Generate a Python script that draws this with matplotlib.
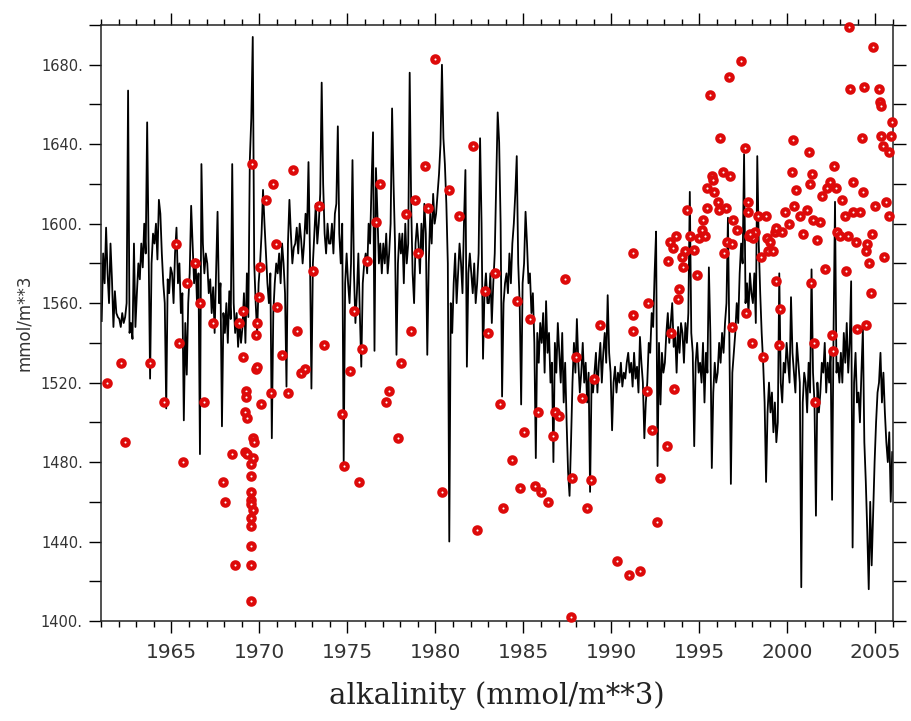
import numpy as np
import matplotlib
matplotlib.use('Agg')
import matplotlib.pyplot as plt
from matplotlib.transforms import ScaledTranslation

# monthly model alkalinity (mmol/m**3), Jan..Dec for each year
alk_1961_1970 = [
    1551, 1585, 1570, 1598, 1575, 1560, 1590, 1572, 1548, 1566, 1555, 1553,
    1552, 1548, 1555, 1550, 1553, 1560, 1667, 1545, 1550, 1542, 1590, 1548,
    1565, 1580, 1572, 1590, 1578, 1600, 1585, 1651, 1588, 1522, 1580, 1595,
    1590, 1600, 1582, 1612, 1605, 1585, 1570, 1560, 1507, 1572, 1565, 1578,
    1575, 1560, 1585, 1598, 1570, 1580, 1555, 1565, 1501, 1550, 1524, 1560,
    1575, 1609, 1590, 1570, 1582, 1560, 1575, 1484, 1630, 1590, 1575, 1585,
    1580, 1565, 1572, 1555, 1568, 1545, 1575, 1606, 1560, 1570, 1498, 1555,
    1545, 1560, 1540, 1566, 1552, 1630, 1560, 1545, 1555, 1538, 1550, 1540,
    1548, 1565, 1540, 1575, 1553, 1632, 1653, 1694, 1580, 1560, 1545, 1570,
    1580, 1595, 1617, 1600, 1585, 1570, 1560, 1575, 1492, 1555, 1570, 1580,
]
alk_1971_1980 = [
    1575, 1585, 1570, 1590, 1580, 1565, 1518, 1590, 1612, 1595, 1580, 1588,
    1590, 1598, 1585, 1600, 1592, 1580, 1590, 1605, 1595, 1631, 1585, 1517,
    1580, 1595, 1610, 1590, 1600, 1615, 1671, 1620, 1595, 1585, 1600, 1590,
    1590, 1600, 1585, 1605, 1610, 1649, 1595, 1580, 1600, 1480, 1570, 1585,
    1570, 1560, 1580, 1632, 1575, 1550, 1565, 1585, 1555, 1528, 1570, 1580,
    1585, 1575, 1600, 1590, 1620, 1646, 1536, 1628, 1605, 1580, 1590, 1575,
    1590, 1580, 1595, 1575, 1585, 1600, 1658, 1620, 1590, 1534, 1580, 1595,
    1585, 1595, 1570, 1600, 1580, 1590, 1676, 1610, 1575, 1560, 1590, 1600,
    1590, 1575, 1600, 1585, 1610, 1595, 1534, 1580, 1605, 1590, 1615, 1600,
    1605, 1615, 1625, 1640, 1680, 1643, 1630, 1610, 1580, 1440, 1560, 1545,
]
alk_1981_1990 = [
    1570, 1585, 1560, 1575, 1590, 1580, 1565, 1600, 1627, 1528, 1575, 1585,
    1575, 1565, 1580, 1560, 1570, 1585, 1643, 1600, 1532, 1565, 1575, 1560,
    1560, 1575, 1550, 1570, 1585, 1620, 1656, 1641, 1600, 1513, 1560, 1570,
    1575, 1565, 1585, 1570, 1590, 1600, 1615, 1634, 1580, 1560, 1509, 1570,
    1580, 1606, 1590, 1570, 1575, 1555, 1565, 1540, 1482, 1545, 1530, 1550,
    1540, 1555, 1525, 1561, 1535, 1545, 1520, 1530, 1480, 1540, 1525, 1550,
    1535, 1520, 1545, 1510, 1530, 1500, 1475, 1463, 1490, 1520, 1540, 1525,
    1552, 1530, 1515, 1525, 1540, 1520, 1530, 1510, 1525, 1465, 1520, 1515,
    1525, 1535, 1515, 1530, 1540, 1520, 1535, 1545, 1530, 1564, 1535, 1525,
    1496, 1520, 1528, 1515, 1525, 1520, 1530, 1518, 1525, 1522, 1530, 1535,
]
alk_1991_2000 = [
    1525, 1530, 1518, 1535, 1522, 1528, 1515, 1543, 1530, 1520, 1492, 1510,
    1520, 1540, 1535, 1555, 1548, 1575, 1596, 1478, 1540, 1509, 1535, 1525,
    1530, 1545, 1555, 1540, 1550, 1560, 1538, 1545, 1525, 1548, 1535, 1550,
    1545, 1530, 1550, 1540, 1555, 1616, 1545, 1535, 1488, 1530, 1540, 1525,
    1530, 1520, 1540, 1510, 1535, 1525, 1578, 1545, 1477, 1515, 1530, 1520,
    1525, 1540, 1530, 1545, 1535, 1550, 1560, 1603, 1540, 1469, 1525, 1535,
    1545, 1560, 1550, 1575, 1590, 1580, 1635, 1560, 1570, 1555, 1575, 1565,
    1560, 1575, 1550, 1634, 1590, 1565, 1545, 1530, 1510, 1470, 1505, 1520,
    1505, 1515, 1495, 1510, 1490, 1500, 1575, 1520, 1510, 1530, 1525, 1540,
    1530, 1520, 1563, 1535, 1525, 1515, 1540, 1530, 1520, 1417, 1510, 1525,
]
alk_2001_2005 = [
    1520, 1505, 1530, 1515, 1577, 1525, 1510, 1453, 1520, 1505, 1515, 1530,
    1525, 1540, 1515, 1530, 1520, 1535, 1461, 1545, 1611, 1525, 1530, 1520,
    1535, 1520, 1545, 1530, 1550, 1525, 1540, 1571, 1437, 1520, 1535, 1510,
    1515, 1500, 1525, 1547, 1490, 1470, 1445, 1416, 1460, 1428, 1455, 1480,
    1500, 1515, 1520, 1535, 1510, 1525, 1505, 1490, 1480, 1495, 1460, 1485,
]

# observations (decimal year, value)
obs_year_1 = [1961.34, 1962.14, 1962.38, 1963.78, 1964.58, 1965.26, 1965.43, 1965.64,
              1965.90, 1966.34, 1966.60, 1966.85, 1967.38, 1967.91, 1968.06, 1968.42,
              1968.63, 1968.84, 1969.07, 1969.08, 1969.22, 1969.22, 1969.20, 1969.28,
              1969.20, 1969.28, 1969.56, 1969.66, 1969.70, 1969.50, 1969.66, 1969.52,
              1969.50, 1969.50, 1969.55, 1969.65, 1969.50, 1969.50, 1969.50, 1969.50,
              1969.50, 1969.83, 1969.85, 1970.03, 1970.00, 1969.80, 1969.87, 1970.10,
              1970.39, 1970.64, 1970.75, 1970.92, 1971.00, 1971.28, 1971.60, 1971.89,
              1972.14, 1972.36, 1972.59, 1973.03, 1973.37, 1973.67, 1974.67, 1974.82,
              1975.17, 1975.39, 1975.64, 1975.85, 1976.10]
obs_val_1 = [1520, 1530, 1490, 1530, 1510, 1590, 1540, 1480,
             1570, 1580, 1560, 1510, 1550, 1470, 1460, 1484,
             1428, 1550, 1556, 1533, 1516, 1513, 1505, 1502,
             1485, 1484, 1630, 1492, 1490, 1479, 1482, 1473,
             1465, 1461, 1459, 1456, 1452, 1448, 1438, 1428,
             1410, 1544, 1550, 1578, 1563, 1527, 1528, 1509,
             1612, 1515, 1620, 1590, 1558, 1534, 1515, 1627,
             1546, 1525, 1527, 1576, 1609, 1539, 1504, 1478,
             1526, 1556, 1470, 1537, 1581]

obs_year_2 = [1976.62, 1976.85, 1977.36, 1977.17, 1977.86, 1978.03, 1978.31, 1978.59,
              1978.84, 1978.99, 1979.39, 1979.60, 1980.00, 1980.36, 1980.77, 1981.32,
              1982.14, 1982.36, 1982.84, 1983.00, 1983.41, 1983.65, 1983.82, 1984.33,
              1984.66, 1984.79, 1985.03, 1985.39, 1985.64, 1985.83, 1986.00, 1986.40,
              1986.68, 1986.80, 1987.00, 1987.34, 1987.69, 1987.78, 1987.99, 1988.35,
              1988.61, 1988.82, 1989.03, 1989.35, 1990.32, 1990.98, 1991.23, 1991.23,
              1991.23]
obs_val_2 = [1601, 1620, 1516, 1510, 1492, 1530, 1605, 1546,
             1612, 1585, 1629, 1608, 1683, 1465, 1617, 1604,
             1639, 1446, 1566, 1545, 1575, 1509, 1457, 1481,
             1561, 1467, 1495, 1552, 1468, 1505, 1465, 1460,
             1493, 1505, 1503, 1572, 1402, 1472, 1533, 1512,
             1457, 1471, 1522, 1549, 1430, 1423, 1585, 1554,
             1546]

obs_year_3 = [1991.62, 1992.02, 1992.10, 1992.32, 1992.61, 1992.76, 1993.14, 1993.23,
              1993.39, 1993.57, 1993.86, 1993.80, 1994.09, 1994.84, 1996.41, 1996.87,
              1997.65, 1997.99, 1998.59, 1998.48, 1999.35, 1999.58, 1999.52, 2001.32,
              2001.58, 2001.49, 2002.14, 2002.53, 2002.61, 2003.33, 2003.94, 2004.73,
              2004.47, 2004.64, 2005.51,
              1993.67, 1994.47, 1993.33, 1993.48, 1994.18, 1994.03, 1994.71, 1994.98,
              1995.32, 1996.55, 1996.83, 1997.12, 1997.82, 1998.14, 1998.06, 1998.82,
              1999.01, 1998.91, 1999.16, 1999.30, 1999.67, 2000.87, 2001.68, 2002.84,
              2002.99, 2003.46, 2003.88, 2004.50, 2004.45, 2004.79,
              1994.31, 1995.14, 1995.20, 1995.41, 1995.45, 1995.60, 1995.70, 1995.75,
              1995.83, 1996.06, 1996.13, 1996.20, 1996.32, 1996.50, 1996.70, 1996.74,
              1996.93, 1997.36, 1997.57, 1997.76, 1997.76, 1997.87, 1998.35, 1998.80,
              1999.33, 2000.09, 1999.86, 2000.38, 2000.24, 2000.30, 2000.52, 2000.70,
              2001.13, 2001.23, 2001.28, 2001.38, 2001.43, 2001.85, 2001.98, 2002.27,
              2002.42, 2002.66, 2002.76, 2003.08, 2003.27, 2003.52, 2003.55, 2003.75,
              2003.75, 2004.12, 2004.26, 2004.28, 2004.35, 2004.84, 2004.97, 2005.18,
              2005.26, 2005.30, 2005.34, 2005.45, 2005.60, 2005.77, 2005.79, 2005.88,
              2005.92]
obs_val_3 = [1425, 1516, 1560, 1496, 1450, 1472, 1488, 1581,
             1545, 1517, 1567, 1562, 1578, 1574, 1585, 1548,
             1555, 1540, 1533, 1583, 1571, 1557, 1539, 1570,
             1510, 1540, 1577, 1544, 1536, 1576, 1547, 1565,
             1549, 1580, 1583,
             1594, 1594, 1591, 1588, 1586, 1583, 1587, 1593,
             1594, 1591, 1590, 1597, 1594, 1596, 1593, 1593,
             1591, 1586, 1586, 1596, 1596, 1595, 1592, 1596,
             1594, 1594, 1591, 1590, 1586, 1595,
             1607, 1597, 1602, 1618, 1608, 1665, 1624, 1622,
             1616, 1611, 1607, 1643, 1626, 1608, 1674, 1624,
             1602, 1682, 1638, 1611, 1606, 1595, 1604, 1604,
             1598, 1600, 1606, 1609, 1626, 1642, 1617, 1604,
             1607, 1636, 1620, 1625, 1602, 1601, 1614, 1618,
             1621, 1629, 1618, 1612, 1604, 1699, 1668, 1621,
             1606, 1606, 1643, 1616, 1669, 1689, 1609, 1668,
             1661, 1659, 1644, 1639, 1611, 1604, 1636, 1644,
             1651]

alk = np.array(alk_1961_1970 + alk_1971_1980 + alk_1981_1990 + alk_1991_2000 + alk_2001_2005)
months = 1961 + (np.arange(len(alk)) + 0.5) / 12.0
obs_year = np.array(obs_year_1 + obs_year_2 + obs_year_3)
obs_val = np.array(obs_val_1 + obs_val_2 + obs_val_3)

fig = plt.figure(figsize=(9.12, 7.21), dpi=100)
ax = fig.add_axes([0.1107, 0.1387, 0.8684, 0.8266])

ax.plot(months, alk, color='black', lw=1.3)
ax.plot(obs_year, obs_val, 'o', ls='none', ms=4.6, mfc='white', mec='#dd0a0a', mew=3.0,
        clip_on=False, zorder=3)

ax.set_xlim(1961, 2006)
ax.set_ylim(1400, 1700)

years = np.arange(1965, 2006, 5)
ax.set_xticks(years)
ax.set_xticklabels([str(y) for y in years])
ax.set_xticks(np.arange(1961, 2007), minor=True)
# labels sit in the middle of the year
offset = ScaledTranslation(0.088, 0, fig.dpi_scale_trans)
for lab in ax.get_xticklabels():
    lab.set_transform(lab.get_transform() + offset)

yt = np.arange(1400, 1700, 40)
ax.set_yticks(yt)
ax.set_yticklabels(['{}.'.format(v) for v in yt])
ax.set_yticks(np.arange(1400, 1701, 20), minor=True)

tc = '#333333'
ax.tick_params(axis='x', which='major', direction='out', length=8.6, width=1,
               top=True, bottom=True, labelsize=14.5, labelcolor=tc, pad=7)
ax.tick_params(axis='x', which='minor', direction='out', length=4.5, width=1,
               top=True, bottom=True)
ax.tick_params(axis='y', which='both', direction='out', length=9, width=1,
               left=True, right=True, labelsize=10.5, labelcolor=tc, pad=4)
for s in ax.spines.values():
    s.set_linewidth(1.1)
    s.set_color('#222222')

ax.set_xlabel('alkalinity (mmol/m**3)', family='DejaVu Serif', fontsize=21,
              color='#222222', labelpad=14)
ax.set_ylabel('mmol/m**3', fontsize=12, color=tc, labelpad=6)

fig.savefig('out.png', dpi=100)
